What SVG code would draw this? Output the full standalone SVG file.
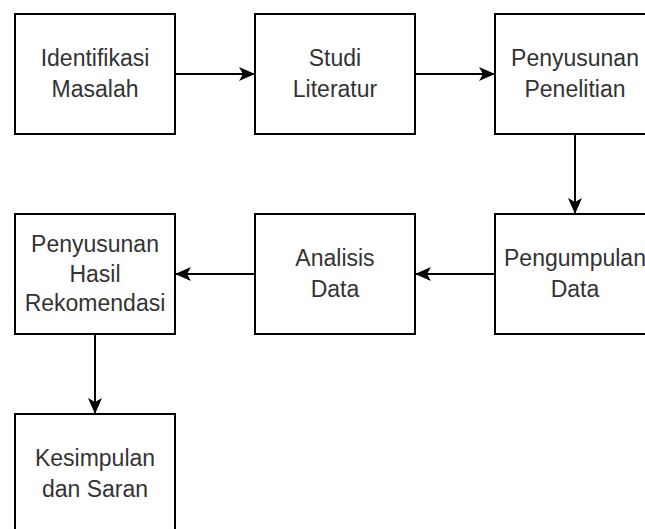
<svg xmlns="http://www.w3.org/2000/svg" width="645" height="529" viewBox="0 0 645 529">
<style>
.box{fill:#ffffff;stroke:#000000;stroke-width:2}
.lbl{font-family:"Liberation Sans",Arial,Helvetica,sans-serif;font-size:23px;fill:#333333;text-anchor:middle}
.edge{fill:none;stroke:#000000;stroke-width:2}
</style>
<defs>
<marker id="arr" viewBox="0 0 16 14" refX="16" refY="7" markerWidth="16" markerHeight="14" markerUnits="userSpaceOnUse" orient="auto">
<path d="M16,7 L0,0 L4,7 L0,14 Z" fill="#000000"/>
</marker>
</defs>
<rect x="0" y="0" width="645" height="529" fill="#ffffff"/>
<g id="connectors">
<path class="edge" d="M175,74 L255,74" marker-end="url(#arr)"/>
<path class="edge" d="M415,74 L495,74" marker-end="url(#arr)"/>
<path class="edge" d="M575,134 L575,214" marker-end="url(#arr)"/>
<path class="edge" d="M495,274 L415,274" marker-end="url(#arr)"/>
<path class="edge" d="M255,274 L175,274" marker-end="url(#arr)"/>
<path class="edge" d="M95,334 L95,414" marker-end="url(#arr)"/>
</g>
<g id="n1"><rect class="box" x="15" y="14" width="160" height="120"/><text class="lbl" x="95" y="66">Identifikasi</text><text class="lbl" x="95" y="96.5">Masalah</text></g>
<g id="n2"><rect class="box" x="255" y="14" width="160" height="120"/><text class="lbl" x="335" y="66">Studi</text><text class="lbl" x="335" y="96.5">Literatur</text></g>
<g id="n3"><rect class="box" x="495" y="14" width="160" height="120"/><text class="lbl" x="575" y="66">Penyusunan</text><text class="lbl" x="575" y="96.5">Penelitian</text></g>
<g id="n4"><rect class="box" x="15" y="214" width="160" height="120"/><text class="lbl" x="95" y="252">Penyusunan</text><text class="lbl" x="95" y="281.5">Hasil</text><text class="lbl" x="95" y="311">Rekomendasi</text></g>
<g id="n5"><rect class="box" x="255" y="214" width="160" height="120"/><text class="lbl" x="335" y="266">Analisis</text><text class="lbl" x="335" y="296.5">Data</text></g>
<g id="n6"><rect class="box" x="495" y="214" width="160" height="120"/><text class="lbl" x="575" y="266">Pengumpulan</text><text class="lbl" x="575" y="296.5">Data</text></g>
<g id="n7"><rect class="box" x="15" y="414" width="160" height="120"/><text class="lbl" x="95" y="466">Kesimpulan</text><text class="lbl" x="95" y="496.5">dan Saran</text></g>
</svg>
